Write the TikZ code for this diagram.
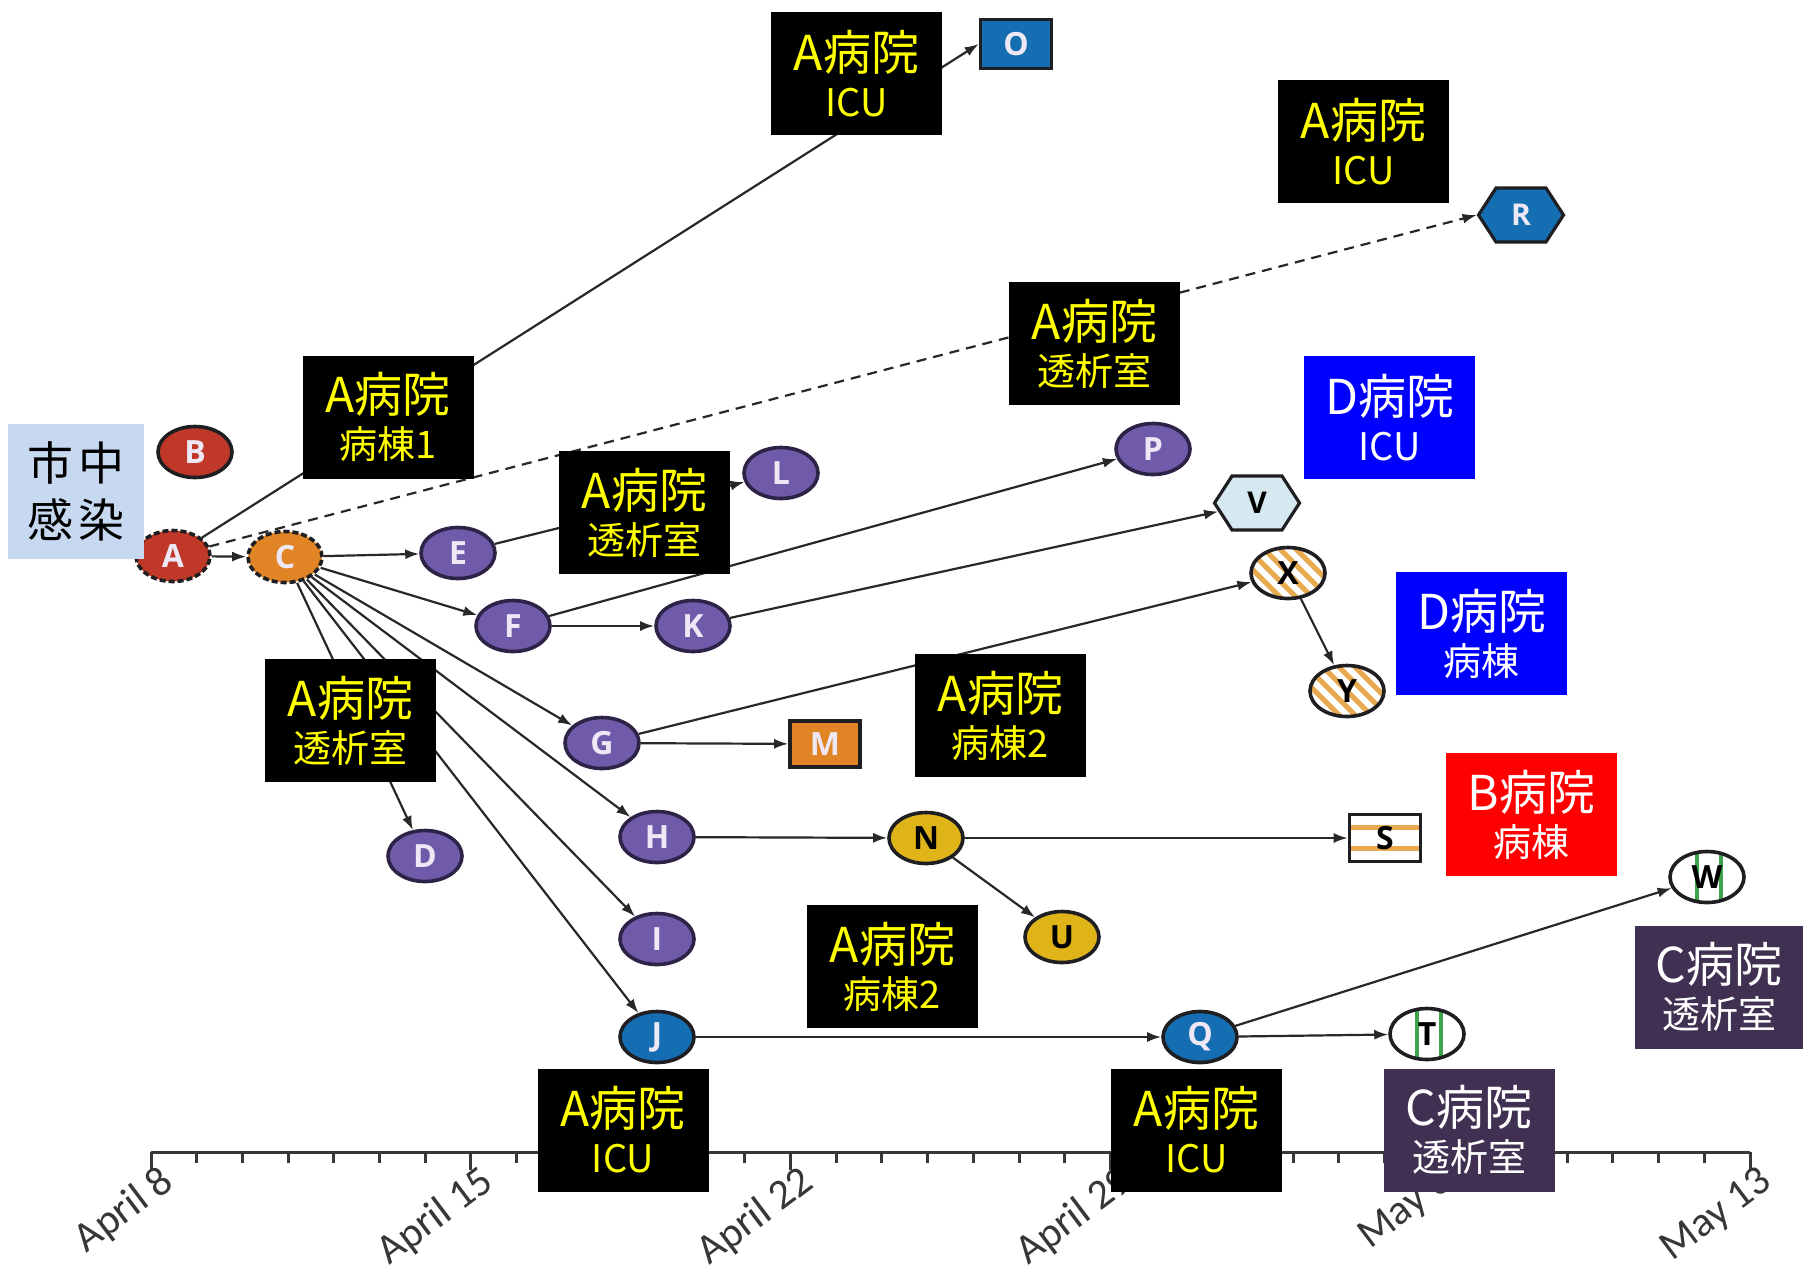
\documentclass[tikz,border=0pt]{standalone}
\usepackage{fontspec}
\usetikzlibrary{shapes.geometric,shapes.symbols,arrows.meta,backgrounds}
\newfontfamily\cjk{Noto Sans CJK JP}
\newfontfamily\lfont{Open Sans}
\newfontfamily\tlfont{Carlito}
\definecolor{npurple}{RGB}{112,90,170}
\definecolor{npurpleD}{RGB}{45,35,70}
\definecolor{nred}{RGB}{192,56,40}
\definecolor{norange}{RGB}{224,132,38}
\definecolor{nblue}{RGB}{22,110,178}
\definecolor{nyellow}{RGB}{222,180,24}
\definecolor{edgecol}{RGB}{40,40,40}
\definecolor{boxblue}{RGB}{0,0,255}
\definecolor{boxred}{RGB}{255,0,0}
\definecolor{boxpurple}{RGB}{64,49,82}
\definecolor{boxlb}{RGB}{198,217,241}
\definecolor{ylw}{RGB}{255,255,0}
\definecolor{stripeor}{RGB}{232,170,80}
\definecolor{stripegr}{RGB}{60,165,75}
\definecolor{vfill}{RGB}{214,233,240}
\definecolor{lettw}{RGB}{238,232,246}
\definecolor{darkbd}{RGB}{30,30,35}
\definecolor{tlcol}{RGB}{55,55,55}
\tikzset{
  nd/.style={ellipse, minimum width=37pt, minimum height=25.5pt, inner sep=0pt,
    line width=1.8pt, font=\lfont\bfseries\fontsize{16}{16}\selectfont},
  purnd/.style={nd, fill=npurple, draw=npurpleD, text=lettw},
  rednd/.style={nd, fill=nred, draw=darkbd, text=lettw},
  dashbd/.style={draw=darkbd, dash pattern=on 3pt off 1.5pt},
  blund/.style={nd, fill=nblue, draw=darkbd, text=lettw},
  yelnd/.style={nd, fill=nyellow, draw=darkbd, text=black},
  orstripe/.style={nd, fill=white, draw=darkbd, text=black,
    path picture={\foreach \k in {-16,-8,0,8,16}
      \draw[stripeor, line width=2.6pt] ([xshift=\k pt]path picture bounding box.center) ++(-20pt,20pt) -- ++(40pt,-40pt);}},
  grstripe/.style={nd, fill=white, draw=darkbd, text=black,
    path picture={\foreach \k in {-5,7}
      \draw[stripegr, line width=2.2pt] ([xshift=\k pt]path picture bounding box.center) ++(0,-20pt) -- ++(0,40pt);}},
  sqnd/.style={rectangle, inner sep=0pt, line width=1.8pt, draw=darkbd,
    font=\lfont\bfseries\fontsize{16}{16}\selectfont},
  hexa/.style={signal, signal to=west and east, signal pointer angle=114,
    minimum width=42.5pt, minimum height=27pt, inner sep=0pt, line width=1.6pt,
    draw=darkbd, font=\lfont\bfseries\fontsize{15}{15}\selectfont},
  lbox/.style={rectangle, minimum width=85.5pt, minimum height=61.5pt, inner sep=0pt,
    align=center, font=\cjk\fontsize{19}{23}\selectfont},
  blk/.style={lbox, fill=black, text=ylw},
  dbox/.style={lbox, fill=boxblue, text=white},
  rbox/.style={lbox, fill=boxred, text=white},
  cbox/.style={lbox, fill=boxpurple, text=white},
  conn/.style={draw=edgecol, line width=1.1pt, -{Latex[length=7pt,width=5pt]}},
  dashconn/.style={conn, dash pattern=on 5pt off 3.5pt},
  tlab/.style={font=\tlfont\fontsize{21}{21}\selectfont, text=tlcol, anchor=east, rotate=37, inner sep=0pt}
}
\newcommand{\hbig}[1]{{\fontsize{24}{23}\selectfont #1}}
\begin{document}
\begin{tikzpicture}[x=0.5pt,y=-0.5pt]
\begin{scope}[on background layer]
\fill[white] (0,0) rectangle (1803,1276);
\end{scope}
\useasboundingbox (0,0) rectangle (1803,1276);

% nodes
\node[rednd, dashbd] (A) at (173,556) {A};
\node[rednd] (B) at (195,452) {B};
\node[nd, fill=norange, dashbd, text=lettw] (C) at (285,557) {C};
\node[purnd] (D) at (425,856) {D};
\node[purnd] (E) at (458,553) {E};
\node[purnd] (F) at (513,626) {F};
\node[purnd] (G) at (602,743) {G};
\node[purnd] (H) at (657,837) {H};
\node[purnd] (I) at (657,939) {I};
\node[blund] (J) at (657,1037) {J};
\node[purnd] (K) at (693,626) {K};
\node[purnd] (L) at (781,473) {L};
\node[sqnd, fill=norange, text=lettw, minimum width=35pt, minimum height=23pt] (M) at (825,744) {M};
\node[yelnd] (N) at (926,838) {N};
\node[sqnd, fill=nblue, text=lettw, minimum width=35.5pt, minimum height=24.5pt] (O) at (1016,44) {O};
\node[purnd] (P) at (1153,449) {P};
\node[blund] (Q) at (1200,1037) {Q};
\node[hexa, fill=nblue, text=lettw] (R) at (1521,215) {R};
\node[sqnd, fill=white, text=black, minimum width=35.5pt, minimum height=23.5pt,
  path picture={\foreach \k in {-5.2,5.2}
    \draw[stripeor, line width=2.4pt] ([yshift=\k pt]path picture bounding box.center) ++(-20pt,0) -- ++(40pt,0);}] (S) at (1385,838) {S};
\node[grstripe] (T) at (1427,1034) {T};
\node[yelnd] (U) at (1062,937) {U};
\node[hexa, fill=vfill, text=black] (V) at (1257,503) {V};
\node[grstripe] (W) at (1707,877) {W};
\node[orstripe] (X) at (1288,573) {X};
\node[orstripe] (Y) at (1347,691) {Y};

% label boxes
\node[lbox, fill=boxlb, text=black, minimum width=68pt, minimum height=67.5pt,
  font=\cjk\fontsize{23}{28.5}\selectfont] (city) at (76,491.5) {市\hspace{3pt}中\\感\hspace{3pt}染};
\node[blk] (b1) at (388,417) {\hbig{A病院}\\病棟1};
\node[blk] (b2) at (856.5,73.5) {\hbig{A病院}\\ICU};
\node[blk] (b3) at (1363.5,141.5) {\hbig{A病院}\\ICU};
\node[blk] (b4) at (1094.5,343.5) {\hbig{A病院}\\透析室};
\node[blk] (b5) at (644.5,512.5) {\hbig{A病院}\\透析室};
\node[blk] (b6) at (350.5,720.5) {\hbig{A病院}\\透析室};
\node[blk] (b7) at (1000.5,715.5) {\hbig{A病院}\\病棟2};
\node[blk] (b8) at (892.5,966.5) {\hbig{A病院}\\病棟2};
\node[blk] (b9) at (623,1130) {\hbig{A病院}\\ICU};
\node[blk] (b10) at (1196.5,1130) {\hbig{A病院}\\ICU};
\node[dbox] (b11) at (1389.5,417.5) {\hbig{D病院}\\ICU};
\node[dbox] (b12) at (1481.5,633.5) {\hbig{D病院}\\病棟};
\node[rbox] (b13) at (1531.5,814.5) {\hbig{B病院}\\病棟};
\node[cbox, minimum width=84pt] (b14) at (1719,987) {\hbig{C病院}\\透析室};
\node[cbox] (b15) at (1469,1130) {\hbig{C病院}\\透析室};

\begin{scope}[on background layer]
% timeline
\draw[tlcol, line width=1.5pt] (151,1152) -- (1750,1152);
\foreach \d in {0,...,35}{
  \pgfmathsetmacro{\xx}{151+\d*45.686}
  \pgfmathtruncatemacro{\mm}{mod(\d,7)}
  \ifnum\mm=0
    \draw[tlcol, line width=1.5pt] (\xx,1152) -- (\xx,1170);
  \else
    \draw[tlcol, line width=1.5pt] (\xx,1152) -- (\xx,1163);
  \fi
}
\node[tlab] (t1) at (169,1177) {April 8};
\node[tlab] (t2) at (489,1177) {April 15};
\node[tlab] (t3) at (809,1177) {April 22};
\node[tlab] (t4) at (1128,1177) {April 29};
\node[tlab] (t5) at (1448,1177) {May 6};
\node[tlab] (t6) at (1768,1177) {May 13};
% connectors
\draw[conn] (A) -- (C);
\draw[conn] (A) -- (O.west);
\draw[dashconn] (A) -- (R.west);
\draw[conn] (C) -- (E);
\draw[conn] (C) -- (F);
\draw[conn] (C) -- (G);
\draw[conn] (C) -- (H);
\draw[conn] (C) -- (I);
\draw[conn] (C) -- (J);
\draw[conn] (C) -- (D);
\draw[conn] (E) -- (L);
\draw[conn] (F) -- (P);
\draw[conn] (F) -- (K);
\draw[conn] (K) -- (V);
\draw[conn] (G) -- (X);
\draw[conn] (G) -- (M);
\draw[conn] (H) -- (N);
\draw[conn] (N) -- (S);
\draw[conn] (N) -- (U);
\draw[conn] (J) -- (Q);
\draw[conn] (Q) -- (W);
\draw[conn] (Q) -- (T);
\draw[conn] (X) -- (Y);
\end{scope}
\end{tikzpicture}
\end{document}
